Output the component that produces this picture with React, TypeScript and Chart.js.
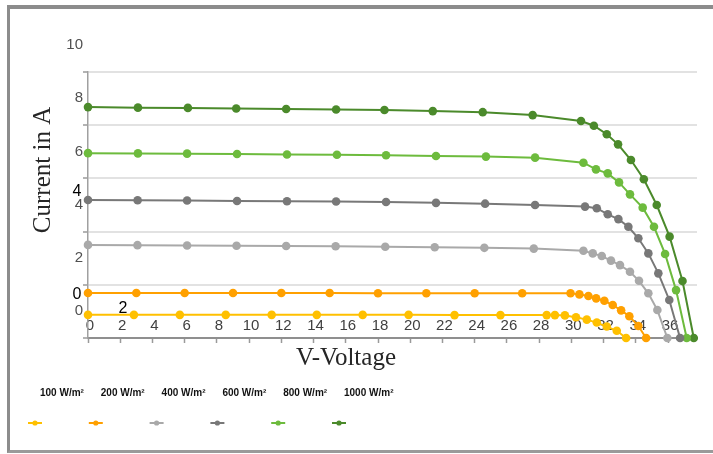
import React, { useEffect, useRef } from "react";
import { Chart, registerables } from "chart.js";

Chart.register(...registerables);

// ---- data ----
const seriesLabels = ["100 W/m²", "200 W/m²", "400 W/m²", "600 W/m²", "800 W/m²", "1000 W/m²"];
const seriesColors = ["#FFC000", "#FFA000", "#A9A9A9", "#787878", "#6DBB3D", "#4B8A2B"];

const voltage100 = [0, 2.85, 5.7, 8.55, 11.4, 14.2, 17.05, 19.9, 22.75, 25.6, 28.47, 28.98, 29.6, 30.29, 30.96, 31.58, 32.2, 32.82, 33.4];
const current100 = [0.87, 0.87, 0.87, 0.87, 0.87, 0.87, 0.87, 0.87, 0.86, 0.86, 0.86, 0.86, 0.85, 0.78, 0.69, 0.58, 0.43, 0.27, 0];

const voltage200 = [0, 3.0, 6.0, 9.0, 12.0, 15.0, 18.0, 21.0, 24.0, 26.95, 29.95, 30.5, 31.06, 31.54, 32.05, 32.57, 33.09, 33.6, 34.16, 34.64];
const current200 = [1.69, 1.69, 1.69, 1.69, 1.69, 1.69, 1.68, 1.68, 1.68, 1.68, 1.68, 1.64, 1.58, 1.49, 1.4, 1.24, 1.04, 0.82, 0.45, 0];

const voltage400 = [0, 3.07, 6.15, 9.22, 12.3, 15.37, 18.45, 21.52, 24.6, 27.67, 30.75, 31.33, 31.89, 32.46, 33.02, 33.64, 34.2, 34.78, 35.34, 35.96];
const current400 = [3.5, 3.49, 3.48, 3.47, 3.46, 3.45, 3.43, 3.41, 3.39, 3.36, 3.28, 3.18, 3.08, 2.91, 2.74, 2.49, 2.15, 1.68, 1.05, 0];

const voltage600 = [0, 3.08, 6.15, 9.25, 12.35, 15.4, 18.5, 21.6, 24.65, 27.75, 30.85, 31.58, 32.26, 32.92, 33.54, 34.16, 34.78, 35.4, 36.08, 36.75];
const current600 = [5.19, 5.18, 5.17, 5.15, 5.14, 5.13, 5.11, 5.08, 5.05, 5.0, 4.94, 4.88, 4.65, 4.47, 4.18, 3.75, 3.18, 2.43, 1.43, 0];

const voltage800 = [0, 3.1, 6.15, 9.25, 12.35, 15.45, 18.5, 21.6, 24.7, 27.75, 30.75, 31.53, 32.26, 32.96, 33.64, 34.43, 35.13, 35.82, 36.5, 37.16];
const current800 = [6.95, 6.94, 6.93, 6.92, 6.9, 6.89, 6.87, 6.84, 6.82, 6.78, 6.59, 6.34, 6.19, 5.85, 5.4, 4.9, 4.18, 3.16, 1.8, 0];

const voltage1000 = [0, 3.1, 6.2, 9.2, 12.3, 15.4, 18.4, 21.4, 24.5, 27.6, 30.6, 31.4, 32.2, 32.9, 33.7, 34.5, 35.3, 36.1, 36.9, 37.6];
const current1000 = [8.68, 8.66, 8.65, 8.63, 8.61, 8.59, 8.57, 8.53, 8.49, 8.38, 8.16, 7.98, 7.66, 7.28, 6.69, 5.97, 5.0, 3.81, 2.14, 0];

const seriesVoltages = [voltage100, voltage200, voltage400, voltage600, voltage800, voltage1000];
const seriesCurrents = [current100, current200, current400, current600, current800, current1000];

const xAxisMin = 0;
const xAxisMax = 37.8;
const xTickStep = 2;
const yAxisMin = 0;
const yAxisMax = 10;
const yTickStep = 2;

const xTitle = "V-Voltage";
const yTitle = "Current in A";

// stray labels that sit in the picture (value coordinates)
const strayTexts = ["4", "0", "2"];
const strayVoltage = [-0.68, -0.68, 2.17];
const strayCurrent = [5.49, 1.65, 1.09];

// ---- overlay plugin: titles, legend, stray labels ----
const overlayPlugin = {
  id: "overlay",
  afterDraw(chart: any) {
    const ctx = chart.ctx as CanvasRenderingContext2D;
    const xs = chart.scales.x;
    const ys = chart.scales.y;
    ctx.save();

    // axis titles
    ctx.fillStyle = "#262626";
    ctx.font = '25px "Liberation Serif", serif';
    ctx.textAlign = "center";
    ctx.textBaseline = "alphabetic";
    ctx.fillText(xTitle, 346, 365);
    ctx.save();
    ctx.translate(50, 170);
    ctx.rotate(-Math.PI / 2);
    ctx.fillText(yTitle, 0, 0);
    ctx.restore();

    // stray labels
    ctx.fillStyle = "#000";
    ctx.font = '16px "Liberation Sans", Arial, sans-serif';
    ctx.textBaseline = "middle";
    strayTexts.forEach((t, i) => {
      ctx.fillText(t, xs.getPixelForValue(strayVoltage[i]), ys.getPixelForValue(strayCurrent[i]));
    });

    // legend
    chart.data.datasets.forEach((ds: any, i: number) => {
      const left = 40 + i * 60.8;
      ctx.font = 'bold 10px "Liberation Sans", Arial, sans-serif';
      ctx.fillStyle = "#111";
      ctx.textAlign = "left";
      ctx.textBaseline = "middle";
      ctx.fillText(ds.label, left, 393);
      const cx = left - 5;
      const cy = 423;
      ctx.strokeStyle = ds.borderColor;
      ctx.lineWidth = 2;
      ctx.beginPath();
      ctx.moveTo(cx - 7, cy);
      ctx.lineTo(cx + 7, cy);
      ctx.stroke();
      ctx.fillStyle = ds.borderColor;
      ctx.beginPath();
      ctx.arc(cx, cy, 2.6, 0, Math.PI * 2);
      ctx.fill();
    });

    ctx.restore();
  },
};

export default function App() {
  const ref = useRef<HTMLCanvasElement>(null);

  useEffect(() => {
    const datasets = seriesLabels.map((label, i) => ({
      label,
      data: seriesVoltages[i].map((v, j) => ({ x: v, y: seriesCurrents[i][j] })),
      borderColor: seriesColors[i],
      backgroundColor: seriesColors[i],
      pointBackgroundColor: seriesColors[i],
      pointBorderColor: seriesColors[i],
      pointRadius: 4.3,
      pointBorderWidth: 0,
      borderWidth: 2,
      tension: 0,
      fill: false,
      clip: false as any,
    }));

    const chart = new Chart(ref.current!, {
      type: "line",
      data: { datasets },
      options: {
        animation: false,
        responsive: false,
        maintainAspectRatio: false,
        layout: { padding: { left: 0, top: 72, right: 16, bottom: 86 } },
        plugins: { legend: { display: false }, tooltip: { enabled: false } },
        scales: {
          x: {
            type: "linear",
            min: xAxisMin,
            max: xAxisMax,
            afterFit: (s: any) => {
              s.height = 30;
            },
            ticks: {
              stepSize: xTickStep,
              includeBounds: false,
              autoSkip: false,
              maxRotation: 0,
              mirror: true,
              padding: 3,
              labelOffset: 2,
              color: "#404040",
              font: { family: '"Liberation Sans", Arial, sans-serif', size: 15 },
            },
            grid: {
              drawOnChartArea: false,
              drawTicks: true,
              tickLength: 5,
              tickColor: "#9a9a9a",
              tickWidth: 1.5,
            },
            border: { color: "#8f8f8f", width: 2 },
          },
          y: {
            type: "linear",
            min: yAxisMin,
            max: yAxisMax,
            afterFit: (s: any) => {
              s.width = 88;
            },
            ticks: {
              stepSize: yTickStep,
              padding: 0,
              labelOffset: -27,
              color: "#505050",
              font: { family: '"Liberation Sans", Arial, sans-serif', size: 15 },
            },
            grid: {
              color: "#e2e2e2",
              lineWidth: 2,
              tickLength: 5,
              tickColor: "#9a9a9a",
              tickWidth: 1.5,
            },
            border: { color: "#a0a0a0", width: 1.5 },
          },
        },
      },
      plugins: [overlayPlugin],
    } as any);

    return () => chart.destroy();
  }, []);

  return (
    <div
      style={{
        position: "fixed",
        left: 0,
        top: 0,
        width: 713,
        height: 454,
        overflow: "hidden",
        background: "#fff",
      }}
    >
      <canvas ref={ref} width={713} height={454} style={{ position: "absolute", left: 0, top: 0 }} />
      <div
        style={{
          position: "absolute",
          left: 7,
          top: 5,
          width: 706,
          height: 448,
          boxSizing: "border-box",
          borderTop: "4px solid #8c8c8c",
          borderLeft: "3px solid #8c8c8c",
          borderBottom: "3px solid #9a9a9a",
          pointerEvents: "none",
        }}
      />
    </div>
  );
}
